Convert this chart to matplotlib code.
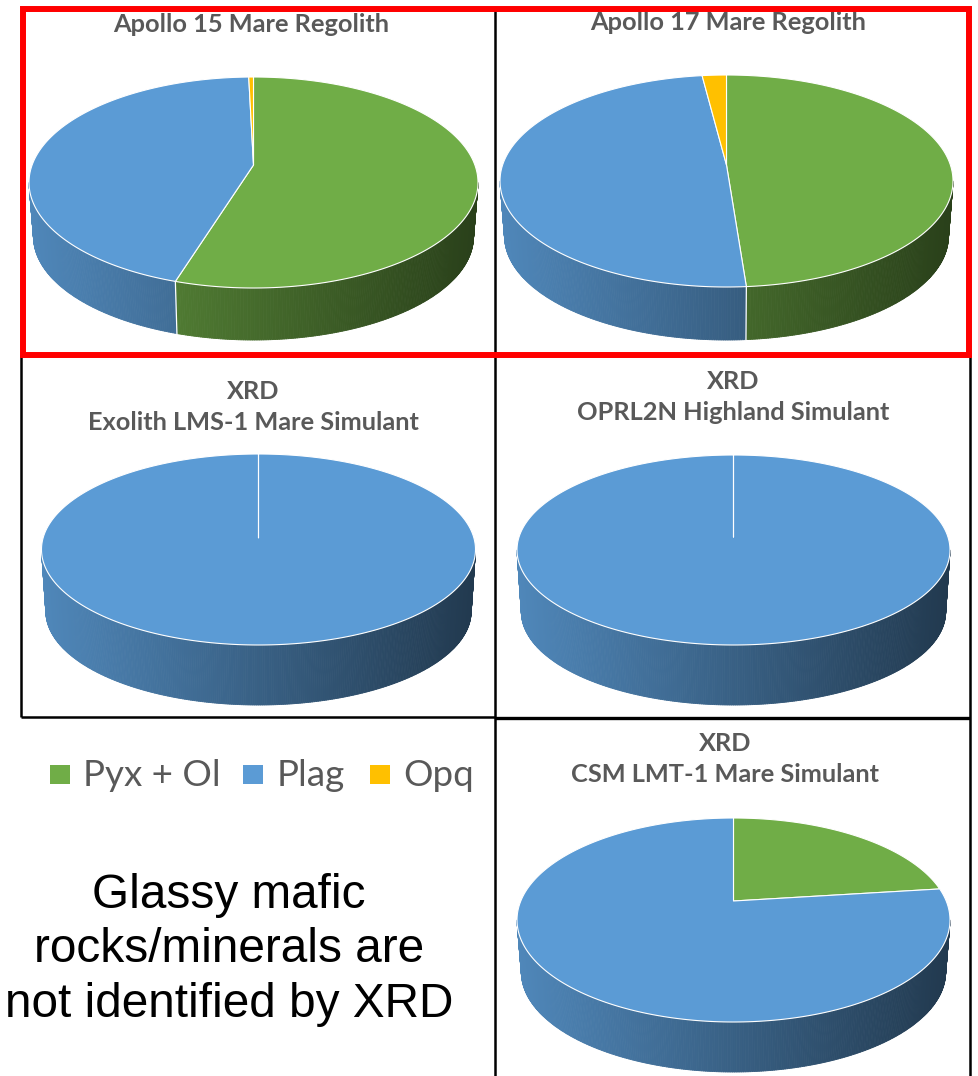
import numpy as np
import matplotlib
matplotlib.use("Agg")
import matplotlib.pyplot as plt
from matplotlib.collections import PolyCollection
from matplotlib.patches import Rectangle, Polygon
from matplotlib.colors import to_rgb

# ---- data (percent of mineral phases) ----
categories = ["Pyx + Ol", "Plag", "Opq"]
apollo15 = [54.8, 44.8, 0.4]
apollo17 = [48.8, 49.2, 2.0]
exolith_lms1 = [0.0, 100.0, 0.0]
oprl2n = [0.0, 100.0, 0.0]
csm_lmt1 = [23.0, 77.0, 0.0]

titles = [
    "Apollo 15 Mare Regolith",
    "Apollo 17 Mare Regolith",
    "XRD\nExolith LMS-1 Mare Simulant",
    "XRD\nOPRL2N Highland Simulant",
    "XRD\nCSM LMT-1 Mare Simulant",
]
note = "Glassy mafic\nrocks/minerals are\nnot identified by XRD"

colors = ["#70AD47", "#5B9BD5", "#FFC000"]
title_color = "#595959"

W, H = 979, 1076
fig = plt.figure(figsize=(W / 100, H / 100), dpi=100)
ax = fig.add_axes([0, 0, 1, 1])
ax.set_xlim(0, W)
ax.set_ylim(H, 0)
ax.axis("off")


def project(theta, cx, vy, A, B, k):
    """Perspective projection of a unit-circle point (angle clockwise from 12 o'clock)."""
    x = np.sin(theta)
    y = np.cos(theta)
    w = 1 + k * y
    return cx + A * x / w, vy - B * y / w


def pie3d(ax, values, cx, vy, half_w, far, near, bottom, shrink=0.98):
    k = (near - far) / (near + far)
    B = far * (1 + k)
    A = half_w * np.sqrt(1 - k * k)
    vyb = bottom - shrink * near
    Ab, Bb = A * shrink, B * shrink
    vals = np.asarray(values, float)
    bounds = np.concatenate([[0.0], np.cumsum(vals)]) / vals.sum() * 2 * np.pi
    left = cx - half_w
    span = 2 * half_w
    vis0 = np.arccos(-k)
    vis1 = 2 * np.pi - vis0

    # extruded side, shaded light-to-dark from left to right
    quads, qcols = [], []
    for i, v in enumerate(vals):
        if v <= 0:
            continue
        lo, hi = max(bounds[i], vis0), min(bounds[i + 1], vis1)
        if hi <= lo:
            continue
        n = max(2, int(np.degrees(hi - lo) * 2))
        th = np.linspace(lo, hi, n + 1)
        tx, ty = project(th, cx, vy, A, B, k)
        bx, by = project(th, cx, vyb, Ab, Bb, k)
        base = np.array(to_rgb(colors[i]))
        for j in range(n):
            quads.append([(tx[j], ty[j]), (tx[j + 1], ty[j + 1]),
                          (bx[j + 1], by[j + 1]), (bx[j], by[j])])
            t = ((tx[j] + tx[j + 1]) / 2 - left) / span
            f = 0.87 - 0.50 * np.clip(t, 0, 1)
            qcols.append(tuple(base * f))
    pc = PolyCollection(quads, facecolors=qcols, edgecolors=qcols, linewidths=0.6, zorder=2)
    ax.add_collection(pc)

    # white seams on the side where slices meet
    for b in bounds:
        if vis0 < b < vis1:
            x0, y0 = project(b, cx, vy, A, B, k)
            x1, y1 = project(b, cx, vyb, Ab, Bb, k)
            ax.plot([x0, x1], [y0, y1], color="white", lw=0.9, zorder=3)

    # top face slices
    for i, v in enumerate(vals):
        if v <= 0:
            continue
        n = max(2, int(np.degrees(bounds[i + 1] - bounds[i]) * 2))
        th = np.linspace(bounds[i], bounds[i + 1], n + 1)
        tx, ty = project(th, cx, vy, A, B, k)
        pts = np.column_stack([np.r_[cx, tx], np.r_[vy, ty]])
        ax.add_patch(Polygon(pts, closed=True, facecolor=colors[i],
                             edgecolor="white", lw=0.8, joinstyle="round", zorder=4))


# pies: (values, centre x, vertex y, half width, far extent, near extent, side bottom)
pie3d(ax, apollo15, 253.5, 165, 224.5, 88, 123, 340)
pie3d(ax, apollo17, 726.5, 165, 226.5, 90, 122, 340)
pie3d(ax, exolith_lms1, 258.5, 538, 217, 84, 107, 705)
pie3d(ax, oprl2n, 733.5, 537, 216.5, 82, 108, 705)
pie3d(ax, csm_lmt1, 733.5, 901, 216.5, 83, 121, 1072)

# titles
tfont = dict(family="Lato", weight="bold", color=title_color, ha="center", va="center", fontsize=18.3)
ax.text(251, 24, titles[0], **tfont)
ax.text(728, 22, titles[1], **tfont)
ax.text(253, 407, titles[2], linespacing=1.37, **tfont)
ax.text(733, 397, titles[3], linespacing=1.37, **tfont)
ax.text(725, 759, titles[4], linespacing=1.37, **tfont)

# legend
leg_x = [(50, 83), (243, 277), (370, 403)]
for (sx, tx), cat, col in zip(leg_x, categories, colors):
    ax.add_patch(Rectangle((sx, 765), 20, 19, facecolor=col, edgecolor="none"))
    ax.text(tx, 775, cat, family="Lato", fontsize=26.5, color=title_color, ha="left", va="center")

# note
ax.text(229, 950, note, family="Liberation Sans", fontsize=34.4, color="black",
        ha="center", va="center", multialignment="center", linespacing=1.27)

# panel frames
blk = dict(color="black", lw=1.8, solid_capstyle="butt", zorder=6)
ax.plot([495, 495], [8, H], **blk)
ax.plot([21.5, 21.5], [355, 717], **blk)
ax.plot([970, 970], [355, H], **blk)
ax.plot([21.5, 495], [717, 717], **blk)
ax.plot([495, 970], [717.5, 717.5], color="black", lw=2.4, solid_capstyle="butt", zorder=6)
ax.add_patch(Rectangle((23, 8.5), 946, 346.5, fill=False, edgecolor="#FF0000", lw=4.3, zorder=7))

fig.savefig("out.png", dpi=100)
